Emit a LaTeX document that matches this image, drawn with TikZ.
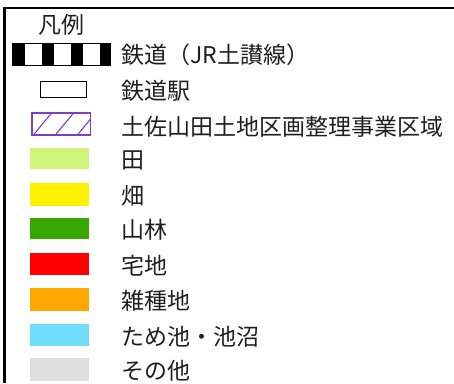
\documentclass[tikz,border=0pt]{standalone}
\usepackage{fontspec}
\newfontfamily\jp{Noto Sans CJK JP}
\definecolor{lgreen}{RGB}{206,245,122}
\definecolor{dgreen}{RGB}{56,166,0}
\definecolor{orng}{RGB}{255,166,0}
\definecolor{cyn}{RGB}{112,221,250}
\definecolor{gry}{RGB}{222,222,222}
\definecolor{purp}{RGB}{123,63,191}
\begin{document}
\begin{tikzpicture}[x=1pt,y=-1pt,
  lbl/.style={anchor=west,inner sep=0pt,text=black!88,font=\jp\fontsize{23}{27}\selectfont},
  swatch/.style={draw=none}]
\useasboundingbox (0,0) rectangle (454,383);
% frame (top and left)
\coordinate (tl) at (4.5,7.8);
\coordinate (tr) at (454,7.8);
\coordinate (bl) at (4.5,383);
\draw[line width=2.3pt] (tr) -- (tl) -- (bl);
% title
\node[lbl,anchor=center] (title) at (61.5,25) {凡例};
% railway
\draw[line width=0.6pt,fill=white] (12,43) rectangle (110,65.5);
\foreach \a/\b in {12/25,42/54,71/83,100/110}{
  \fill[black] (\a,43) rectangle (\b,65.5);
}
\node[lbl] (t1) at (121,55) {鉄道（JR土讃線）};
% station
\draw[line width=1.5pt] (40.5,81.5) rectangle (86.5,97.5);
\node[lbl] (t2) at (121,91) {鉄道駅};
% hatched area
\begin{scope}
\clip (32,113) rectangle (90.5,135);
\foreach \s in {33.3,55.3,77.3}{
  \draw[purp,line width=1.1pt] (\s,135) -- ++(18.3,-22);
}
\end{scope}
\draw[purp,line width=1.3pt] (32,113) rectangle (90.5,135);
\node[lbl] (t3) at (121,127) {土佐山田土地区画整理事業区域};
% colour swatches
\fill[lgreen] (30,148) rectangle (89,169);
\node[lbl] (t4) at (121,160) {田};
\fill[yellow] (30,183) rectangle (89,206);
\node[lbl] (t5) at (121,196) {畑};
\fill[dgreen] (30,218) rectangle (89,239);
\node[lbl] (t6) at (121,230) {山林};
\fill[red] (30,253) rectangle (89,275);
\node[lbl] (t7) at (121,265.5) {宅地};
\fill[orng] (30,288) rectangle (89,311);
\node[lbl] (t8) at (121,301) {雑種地};
\fill[cyn] (30,324) rectangle (89,346);
\node[lbl] (t9) at (121,336.5) {ため池・池沼};
\fill[gry] (30,358) rectangle (89,381);
\node[lbl] (t10) at (121,371) {その他};
\end{tikzpicture}
\end{document}
